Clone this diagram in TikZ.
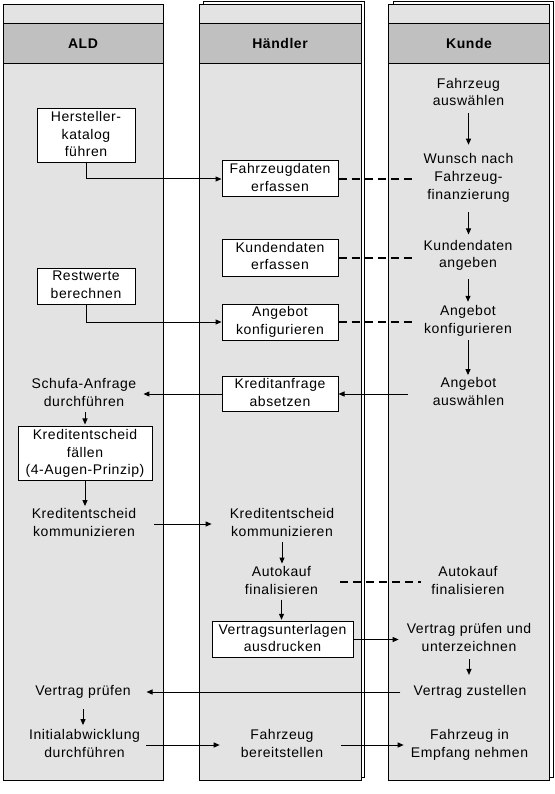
\documentclass[tikz,border=0pt]{standalone}
\usepackage{fontspec}
\setmainfont{Liberation Sans}[LetterSpace=4]
\usetikzlibrary{arrows.meta}
\definecolor{lanebg}{HTML}{E3E3E3}
\definecolor{lanehead}{HTML}{C0C0C0}
\newcommand{\tl}[1]{\begin{tabular}{@{}c@{}}#1\end{tabular}}
\begin{document}
\begin{tikzpicture}[x=1pt,y=-1pt,
  every node/.style={font=\fontsize{14}{17.7}\selectfont, inner sep=0pt},
  box/.style={draw, fill=white, line width=1pt, inner sep=0pt},
  arr/.style={line width=1pt, -{Triangle[length=6pt,width=5pt]}},
  dsh/.style={line width=2pt, dash pattern=on 8pt off 5pt},
  lane/.style={draw, line width=1pt, fill=lanebg},
  backlane/.style={draw, line width=1pt, fill=white},
  band/.style={draw, line width=1pt, fill=lanehead},
  head/.style={font=\fontsize{14}{17.7}\selectfont\bfseries},
]
\useasboundingbox (0,0) rectangle (554,794);
\fill[white] (0,0) rectangle (554,794);
% lanes
\draw[lane] (3,5) rectangle (163,780);
\draw[band] (3,23.5) rectangle (163,63.5);
\draw[backlane] (203,2) rectangle (364,777);
\draw[lane] (199.5,5) rectangle (361,780);
\draw[band] (199.5,23.5) rectangle (361,63.5);
\draw[backlane] (393,2) rectangle (553,777);
\draw[lane] (388.5,5) rectangle (549.5,780);
\draw[band] (388.5,23.5) rectangle (549.5,63.5);
% headers
\node[head] (hALD) at (83,43.5) {ALD};
\node[head] (hH) at (280,43.5) {Händler};
\node[head] (hK) at (469,43.5) {Kunde};
% ALD
\node[box, minimum width=98pt, minimum height=53pt] (herst) at (86,135.5) {\tl{Hersteller-\\katalog\\führen}};
\node[box, minimum width=98pt, minimum height=36pt] (rest) at (86,286) {\tl{Restwerte\\berechnen}};
\node (schufa) at (84,394) {\tl{Schufa-Anfrage\\durchführen}};
\node[box, minimum width=134pt, minimum height=53pt] (kefall) at (85,453.5) {\tl{Kreditentscheid\\fällen\\(4-Augen-Prinzip)}};
\node (kekomA) at (84,524) {\tl{Kreditentscheid\\kommunizieren}};
\node (vprA) at (83,692) {\tl{Vertrag prüfen}};
\node (initA) at (84.5,745) {\tl{Initialabwicklung\\durchführen}};
% Haendler
\node[box, minimum width=116pt, minimum height=36pt] (fzd) at (280,179) {\tl{Fahrzeugdaten\\erfassen}};
\node[box, minimum width=116pt, minimum height=37pt] (kde) at (280,257.5) {\tl{Kundendaten\\erfassen}};
\node[box, minimum width=116pt, minimum height=36pt] (angk) at (280,322) {\tl{Angebot\\konfigurieren}};
\node[box, minimum width=116pt, minimum height=35pt] (kranf) at (280,394) {\tl{Kreditanfrage\\absetzen}};
\node (kekomH) at (282,524) {\tl{Kreditentscheid\\kommunizieren}};
\node (akH) at (281.5,582) {\tl{Autokauf\\finalisieren}};
\node[box, minimum width=141pt, minimum height=35pt] (vtu) at (282.5,639.5) {\tl{Vertragsunterlagen\\ausdrucken}};
\node (fzbH) at (282,745) {\tl{Fahrzeug\\bereitstellen}};
% Kunde
\node (fzaK) at (468.5,93.5) {\tl{Fahrzeug\\auswählen}};
\node (wunK) at (468.5,178) {\tl{Wunsch nach\\Fahrzeug-\\finanzierung}};
\node (kdaK) at (468,255.4) {\tl{Kundendaten\\angeben}};
\node (akonK) at (468,321) {\tl{Angebot\\konfigurieren}};
\node (aausK) at (468.5,393) {\tl{Angebot\\auswählen}};
\node (akK) at (468,582) {\tl{Autokauf\\finalisieren}};
\node (vpuK) at (469,639) {\tl{Vertrag prüfen und\\unterzeichnen}};
\node (vzK) at (470,692) {\tl{Vertrag zustellen}};
\node (fzeK) at (469.5,745) {\tl{Fahrzeug in\\Empfang nehmen}};
% connectors
\draw[arr] (herst.south) |- (fzd.west);
\draw[arr] (rest.south) |- (angk.west);
\draw[dsh, shorten >=10.7pt] (fzd.east) -- (fzd.east -| wunK.west);
\draw[dsh, shorten >=8pt] (kde.east) -- (kde.east -| kdaK.west);
\draw[dsh, shorten >=12pt] (angk.east) -- (angk.east -| akonK.west);
\draw[dsh, shorten <=22pt, shorten >=10pt] (akH.east) -- (akH.east -| akK.west);
\draw[arr, shorten <=25pt] (aausK.west |- kranf.east) -- (kranf.east);
\draw[arr, shorten >=7pt] (kranf.west) -- (kranf.west -| schufa.east);
\draw[arr, shorten >=2pt] (kefall.north |- schufa.south) -- (kefall.north);
\draw[arr] (kefall.south) -- (kefall.south |- kekomA.north);
\draw[arr, shorten <=18pt, shorten >=18pt] (kekomA.east) -- (kekomA.east -| kekomH.west);
\draw[arr, shorten >=0.5pt] (kekomH.south) -- (kekomH.south |- akH.north);
\draw[arr, shorten >=1.5pt] (akH.south) -- (akH.south |- vtu.north);
\draw[arr, shorten >=8pt] (vtu.east) -- (vtu.east -| vpuK.west);
\draw[arr, shorten <=2pt, shorten >=8pt] (vpuK.south) -- (vpuK.south |- vzK.north);
\draw[arr, shorten <=13pt, shorten >=15.6pt] (vzK.west) -- (vzK.west -| vprA.east);
\draw[arr, shorten <=8pt, shorten >=2pt] (vprA.south) -- (vprA.south |- initA.north);
\draw[arr, shorten <=6pt, shorten >=21pt] (initA.east) -- (initA.east -| fzbH.west);
\draw[arr, shorten <=17.5pt, shorten >=7pt] (fzbH.east) -- (fzbH.east -| fzeK.west);
\draw[arr, shorten <=2pt, shorten >=6.5pt] (fzaK.south) -- (fzaK.south |- wunK.north);
\draw[arr, shorten <=7.5pt, shorten >=3pt] (wunK.south) -- (wunK.south |- kdaK.north);
\draw[arr, shorten <=6pt, shorten >=1.3pt] (kdaK.south) -- (kdaK.south |- akonK.north);
\draw[arr, shorten <=1.3pt] (akonK.south) -- (akonK.south |- aausK.north);
\end{tikzpicture}
\end{document}
